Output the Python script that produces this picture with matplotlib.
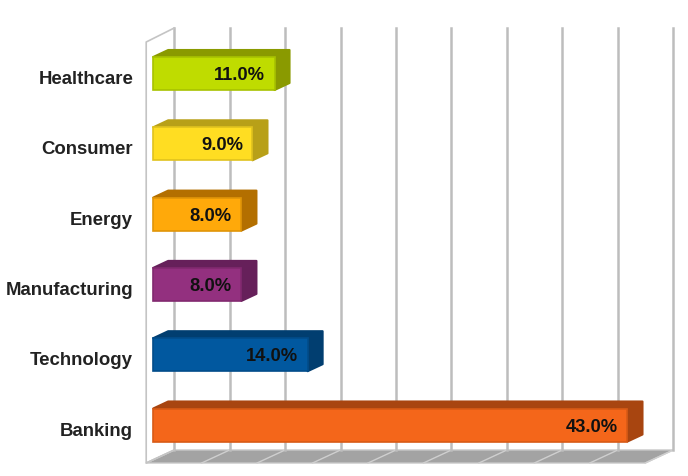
import matplotlib
matplotlib.use('Agg')
import matplotlib.pyplot as plt
from matplotlib.patches import Polygon

categories = ['Banking', 'Technology', 'Manufacturing', 'Energy', 'Consumer', 'Healthcare']
values = [43.0, 14.0, 8.0, 8.0, 9.0, 11.0]
face_colors = ['#f4661a', '#01589f', '#93307f', '#ffa90a', '#ffdd22', '#bfdc00']
edge_colors = ['#d85a16', '#014c8a', '#81296f', '#e09508', '#e0c21e', '#a8c200']
dark_colors = ['#a84510', '#013e70', '#66205a', '#b36f00', '#b8a018', '#8a9a00']
grid_ticks = [0, 5, 10, 15, 20, 25, 30, 35, 40, 45]

W, H = 688, 476
x0 = 153.2     # bar start, pixels
px_x = 11.03   # pixels per percent
px_y = 70.3    # pixels per category
grid_stretch = 55.45 / (5 * px_x)  # wall is drawn a bit wider than the bars

fig = plt.figure(figsize=(W / 100, H / 100), dpi=100)
ax = fig.add_axes([0, 0, 1, 1])
ax.set_xlim(-x0 / px_x, (W - x0) / px_x)
ax.set_ylim(-(H - 425) / px_y, 425 / px_y)
ax.axis('off')

dx = 15 / px_x     # bar depth
dy = 7 / px_y
front_x = -7 / px_x    # floor front edge
back_x = 21 / px_x     # back wall
floor_back = -25 / px_y
floor_front = -38 / px_y
wall_top = 397 / px_y
wall_front_top = 383 / px_y
half = 16.5 / px_y

# floor
last = grid_ticks[-1] * grid_stretch
ax.add_patch(Polygon([(front_x, floor_front), (back_x, floor_back),
                      (back_x + last, floor_back), (front_x + last, floor_front)],
                     closed=True, fc='#a3a3a3', ec='#c8c8c8', lw=1, zorder=1))
for t in grid_ticks:
    g = t * grid_stretch
    ax.plot([g + front_x, g + back_x], [floor_front, floor_back], color='#cfcfcf', lw=1, zorder=1.5)
    ax.plot([g + back_x, g + back_x], [floor_back, wall_top], color='#bdbdbd', lw=1.8, zorder=1.5)

# left wall
ax.plot([back_x, front_x, front_x, back_x], [wall_top, wall_front_top, floor_front, floor_back],
        color='#c4c4c4', lw=1.2, zorder=1.6)

# bars
ys = list(range(len(categories)))
for y, v, fc, ec, dc in zip(ys, values, face_colors, edge_colors, dark_colors):
    ax.add_patch(Polygon([(0, y + half), (dx, y + half + dy), (v + dx, y + half + dy), (v + dx, y - half + dy),
                          (v, y - half), (v, y + half)],
                         closed=True, fc=dc, ec=dc, lw=1.5, joinstyle='round', zorder=2))
    ax.barh(y, v, height=2 * half, color=fc, edgecolor=ec, linewidth=1.2, zorder=3)

for y, v, c in zip(ys, values, categories):
    ax.text(v - 9.5 / px_x, y - 2 / px_y, '%.1f%%' % v, ha='right', va='center', fontsize=13.2,
            fontweight='bold', family='Liberation Sans', color='#111111', zorder=4)
    ax.text(-20 / px_x, y - 6 / px_y, c, ha='right', va='center', fontsize=13.4,
            fontweight='bold', family='Liberation Sans', color='#222222')

fig.savefig('out.png', dpi=100)
